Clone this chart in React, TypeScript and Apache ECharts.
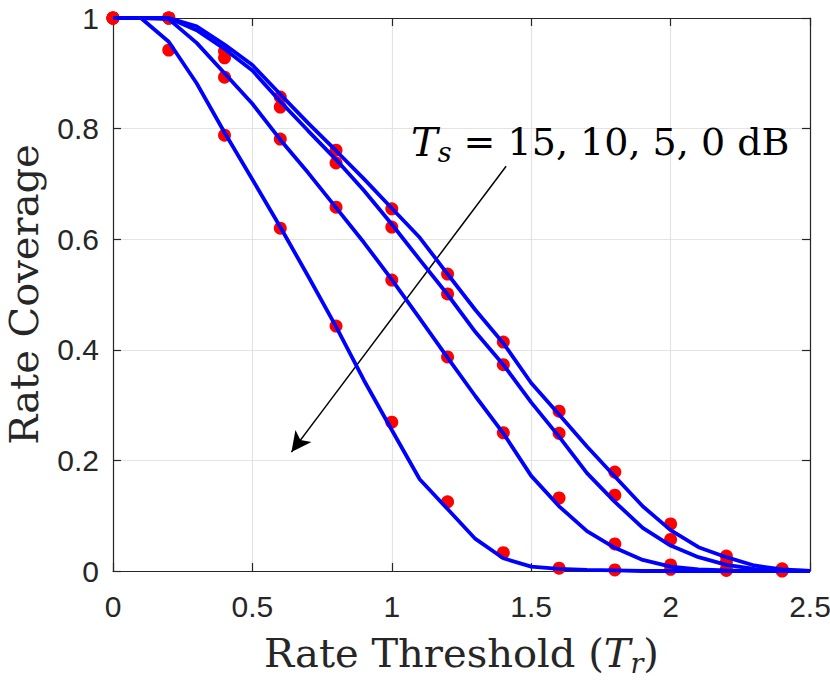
import React, { useEffect, useRef } from "react";
import * as echarts from "echarts";

// Analytical curves (x step 0.1)
const lineX = [0, 0.1, 0.2, 0.3, 0.4, 0.5, 0.6, 0.7, 0.8, 0.9, 1.0, 1.1, 1.2, 1.3, 1.4, 1.5, 1.6, 1.7, 1.8, 1.9, 2.0, 2.1, 2.2, 2.3, 2.4, 2.5];
const line15 = [1, 1, 1, 0.985, 0.952, 0.915, 0.862, 0.81, 0.76, 0.709, 0.656, 0.603, 0.537, 0.472, 0.412, 0.34, 0.283, 0.225, 0.171, 0.117, 0.074, 0.043, 0.025, 0.01, 0.003, 0];
const line10 = [1, 1, 1, 0.978, 0.944, 0.905, 0.849, 0.796, 0.744, 0.688, 0.627, 0.563, 0.5, 0.432, 0.373, 0.305, 0.243, 0.177, 0.125, 0.078, 0.046, 0.025, 0.011, 0.004, 0.001, 0];
const line5 = [1, 1, 0.998, 0.955, 0.9, 0.845, 0.78, 0.72, 0.657, 0.594, 0.527, 0.457, 0.386, 0.316, 0.249, 0.172, 0.117, 0.072, 0.042, 0.02, 0.008, 0.003, 0.001, 0, 0, 0, 0];
const line0 = [1, 1, 0.957, 0.882, 0.793, 0.708, 0.622, 0.533, 0.442, 0.345, 0.255, 0.166, 0.112, 0.058, 0.023, 0.008, 0.004, 0.002, 0.001, 0, 0, 0, 0, 0, 0, 0];

// Simulation points (x step 0.2)
const dotX = [0, 0.2, 0.4, 0.6, 0.8, 1.0, 1.2, 1.4, 1.6, 1.8, 2.0, 2.2, 2.4];
const dot15 = [1, 1, 0.94, 0.857, 0.761, 0.655, 0.537, 0.414, 0.289, 0.179, 0.085, 0.027, 0.004];
const dot10 = [1, 1, 0.928, 0.839, 0.738, 0.622, 0.501, 0.373, 0.249, 0.137, 0.057, 0.016, 0.002];
const dot5 = [1, 1, 0.893, 0.781, 0.658, 0.526, 0.387, 0.25, 0.132, 0.049, 0.011, 0.003, 0.001];
const dot0 = [1, 0.942, 0.788, 0.62, 0.443, 0.269, 0.125, 0.033, 0.005, 0.002, 0.003, 0.001, 0];

// Arrow annotation (data coords)
const arrowStart = [1.41, 0.732];
const arrowEnd = [0.64, 0.215];

const AXIS = "#262626";
const SERIF = "DejaVu Serif";
const SANS = "Liberation Sans";

const pair = (xs: number[], ys: number[]) => xs.map((x, i) => [x, ys[i]]);

export default function App() {
  const ref = useRef<HTMLDivElement>(null);
  useEffect(() => {
    document.body.style.margin = "0";
    const chart = echarts.init(ref.current!, null, { renderer: "svg" });
    const richName = {
      i: { fontFamily: SERIF, fontStyle: "italic", fontSize: 40, lineHeight: 48, color: AXIS },
      sub: { fontFamily: SERIF, fontStyle: "italic", fontSize: 27, lineHeight: 28, verticalAlign: "bottom", color: AXIS },
    };
    const lineSeries = [line15, line10, line5, line0].map((ys, k) => ({
      type: "line",
      data: pair(lineX, ys),
      showSymbol: false,
      symbol: "none",
      lineStyle: { color: "#0000ff", width: 3.8 },
      itemStyle: { color: "#0000ff" },
      z: 5,
      ...(k === 0
        ? {
            markLine: {
              silent: true,
              symbol: ["none", "arrow"],
              symbolSize: [15, 20],
              label: { show: false },
              lineStyle: { color: "#000000", width: 1.5, type: "solid" },
              data: [[{ coord: arrowStart }, { coord: arrowEnd }]],
            },
          }
        : {}),
    }));
    const dotSeries = [dot15, dot10, dot5, dot0].map((ys) => ({
      type: "scatter",
      data: pair(dotX, ys),
      symbol: "circle",
      symbolSize: 13,
      clip: false,
      itemStyle: { color: "#ff0000", opacity: 1 },
      z: 3,
    }));
    chart.setOption({
      animation: false,
      backgroundColor: "#ffffff",
      grid: { left: 113, right: 20, top: 18, bottom: 110, containLabel: false, outerBoundsMode: "none" },
      xAxis: [
        {
          type: "value",
          min: 0,
          max: 2.5,
          interval: 0.5,
          position: "bottom",
          name: "Rate Threshold ({i|T}{sub|r})",
          nameLocation: "middle",
          nameGap: 58,
          nameTextStyle: { fontFamily: SERIF, fontSize: 40, lineHeight: 48, color: AXIS, rich: richName },
          axisLine: { show: true, onZero: false, lineStyle: { color: AXIS, width: 1.2 } },
          axisTick: { show: true, inside: true, length: 8, lineStyle: { color: AXIS, width: 1.2 } },
          axisLabel: { fontFamily: SANS, fontSize: 30, color: AXIS, margin: 20 },
          splitLine: { show: true, lineStyle: { color: "#e3e3e3", width: 1.2 } },
        },
        {
          type: "value",
          min: 0,
          max: 2.5,
          interval: 0.5,
          position: "top",
          axisLine: { show: true, onZero: false, lineStyle: { color: AXIS, width: 1.2 } },
          axisTick: { show: true, inside: true, length: 8, lineStyle: { color: AXIS, width: 1.2 } },
          axisLabel: { show: false },
          splitLine: { show: false },
        },
      ],
      yAxis: [
        {
          type: "value",
          min: 0,
          max: 1,
          interval: 0.2,
          position: "left",
          name: "Rate Coverage",
          nameLocation: "middle",
          nameGap: 69,
          nameTextStyle: { fontFamily: SERIF, fontSize: 40, lineHeight: 40, color: AXIS },
          axisLine: { show: true, onZero: false, lineStyle: { color: AXIS, width: 1.2 } },
          axisTick: { show: true, inside: true, length: 8, lineStyle: { color: AXIS, width: 1.2 } },
          axisLabel: { fontFamily: SANS, fontSize: 30, color: AXIS, margin: 14 },
          splitLine: { show: true, lineStyle: { color: "#e3e3e3", width: 1.2 } },
        },
        {
          type: "value",
          min: 0,
          max: 1,
          interval: 0.2,
          position: "right",
          axisLine: { show: true, onZero: false, lineStyle: { color: AXIS, width: 1.2 } },
          axisTick: { show: true, inside: true, length: 8, lineStyle: { color: AXIS, width: 1.2 } },
          axisLabel: { show: false },
          splitLine: { show: false },
        },
      ],
      graphic: [
        {
          type: "text",
          left: 411,
          top: 118,
          z: 10,
          style: {
            text: "{i|T}{sub|s} = 15, 10, 5, 0 dB",
            fontFamily: SERIF,
            fontSize: 38,
            lineHeight: 48,
            fill: "#000000",
            rich: {
              i: { fontFamily: SERIF, fontStyle: "italic", fontSize: 40, lineHeight: 48, fill: "#000000" },
              sub: { fontFamily: SERIF, fontStyle: "italic", fontSize: 27, lineHeight: 28, verticalAlign: "bottom", fill: "#000000" },
            },
          },
        },
      ],
      series: [...dotSeries, ...lineSeries],
    });
    return () => chart.dispose();
  }, []);
  return <div ref={ref} style={{ width: 830, height: 681 }} />;
}
